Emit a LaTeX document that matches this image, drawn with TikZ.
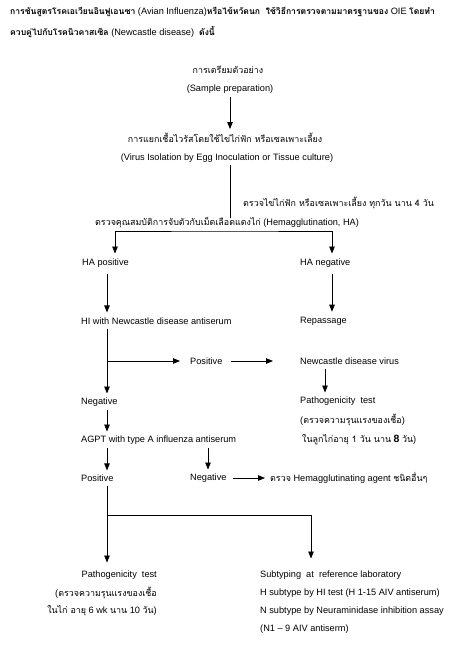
\documentclass[tikz,border=0pt]{standalone}
\usepackage{fontspec}
\setmainfont{Liberation Sans}
\newfontfamily\thaifont[Script=Thai]{Loma}
\newcommand{\tth}[1]{{\thaifont\fontsize{8.9}{11}\selectfont #1}}
\newcommand{\tthb}[1]{{\thaifont\bfseries\fontsize{8.6}{11}\selectfont #1}}
\usetikzlibrary{arrows.meta}
\begin{document}
\begin{tikzpicture}[x=1pt,y=-1pt,
  txt/.style={inner sep=0pt, anchor=west, font=\fontsize{9.2}{11}\selectfont},
  ctxt/.style={inner sep=0pt, anchor=center, font=\fontsize{9.2}{11}\selectfont},
  rtxt/.style={inner sep=0pt, anchor=east, font=\fontsize{9.2}{11}\selectfont},
  ln/.style={line width=0.8pt},
  arr/.style={ln, -{Triangle[length=7pt,width=5.5pt]}, shorten <=4pt, shorten >=4pt},
  dbl/.style={ln, {Triangle[length=7pt,width=5.5pt]}-{Triangle[length=7pt,width=5.5pt]}, shorten <=4pt, shorten >=4pt}]
\useasboundingbox (0,0) rectangle (459,645);
\fill[white] (0,0) rectangle (459,645);
% title
\node[txt] (t1) at (10,12) {\tthb{การชันสูตรโรคเอเวียนอินฟูเอนซา} (Avian Influenza)\tthb{หรือไข้หวัดนก\ \ ใช้วิธีการตรวจตามมาตรฐานของ} OIE \tthb{โดยทำ}};
\node[txt] (t2) at (10,32) {\tthb{ควบคู่ไปกับโรคนิวคาสเซิล} (Newcastle disease)\ \ \tthb{ดังนี้}};
% main column
\node[ctxt] (prepth) at (228,70) {\tth{การเตรียมตัวอย่าง}};
\node[ctxt] (prepen) at (230,89) {(Sample preparation)};
\node[ctxt] (isoth) at (225,138) {\tth{การแยกเชื้อไวรัสโดยใช้ไข่ไก่ฟัก หรือเซลเพาะเลี้ยง}};
\node[ctxt] (isoen) at (227,158) {(Virus Isolation by Egg Inoculation or Tissue culture)};
\node[txt] (check) at (243,203) {\tth{ตรวจไข่ไก่ฟัก หรือเซลเพาะเลี้ยง ทุกวัน นาน 4 วัน}};
\node[txt] (ha) at (95,223) {\tth{ตรวจคุณสมบัติการจับตัวกับเม็ดเลือดแดงไก่} (Hemagglutination, HA)};
\node[txt] (hapos) at (82,263) {HA positive};
\node[txt] (haneg) at (300,263) {HA negative};
\node[txt] (hi) at (81,321) {HI with Newcastle disease antiserum};
\node[txt] (rep) at (300,321) {Repassage};
\node[txt] (pos1) at (190,361) {Positive};
\node[txt] (ndv) at (300,361) {Newcastle disease virus};
\node[txt] (neg1) at (81,402) {Negative};
\node[txt] (path1) at (300,401) {Pathogenicity\ \ test};
\node[txt] (path1b) at (300,420) {(\tth{ตรวจความรุนแรงของเชื้อ})};
\node[txt] (path1c) at (302,440) {\tth{ในลูกไก่อายุ 1 วัน นาน} {\bfseries\fontsize{10.5}{11}\selectfont 8} \tth{วัน})};
\node[txt] (agpt) at (81,440) {AGPT with type A influenza antiserum};
\node[txt] (pos2) at (81,478) {Positive};
\node[txt] (neg2) at (190,478) {Negative};
\node[txt] (other) at (270,478) {\tth{ตรวจ} Hemagglutinating agent \tth{ชนิดอื่นๆ}};
\node[rtxt] (path2) at (157,575) {Pathogenicity\ \ test};
\node[rtxt] (path2b) at (157,593) {(\tth{ตรวจความรุนแรงของเชื้อ}};
\node[rtxt] (path2c) at (157,611) {\tth{ในไก่ อายุ} 6 wk \tth{นาน} 10 \tth{วัน})};
\node[txt] (sub) at (260,575) {Subtyping\ \ at\ \ reference laboratory};
\node[txt] (hsub) at (260,593) {H subtype by HI test (H 1-15 AIV antiserum)};
\node[txt] (nsub) at (260,611) {N subtype by Neuraminidase inhibition assay};
\node[txt] (n1) at (260,629) {(N1 -- 9 AIV antiserm)};
% routing coordinates
\coordinate (xc) at (230,0);
\coordinate (xbl) at (115,0);
\coordinate (xl) at (107,0);
\coordinate (xr) at (332,0);
\coordinate (xn) at (325,0);
\coordinate (xm) at (208,0);
\coordinate (xs) at (311,0);
\coordinate (hab) at (226,231);
\coordinate (split) at (107,515);
\coordinate (branch) at (107,361);
% connectors
\draw[arr] (prepen.south -| xc) -- (isoth.north -| xc);
\draw[ln, shorten <=3pt] (isoen.south -| xc) -- (ha.north -| xc);
\draw[dbl, shorten <=5pt, shorten >=5pt] (hapos.north -| xbl) |- (hab) -| (haneg.north -| xr);
\draw[arr, shorten <=7pt, shorten >=5pt] (hapos.south -| xl) -- (hi.north -| xl);
\draw[arr, shorten <=7pt, shorten >=5pt] (haneg.south -| xr) -- (rep.north -| xr);
\draw[arr] (hi.south -| xl) -- (neg1.north -| xl);
\draw[arr, shorten <=0pt, shorten >=10pt] (branch) -- (pos1.west);
\draw[arr, shorten <=8pt, shorten >=27pt] (pos1.east) -- (ndv.west);
\draw[arr] (ndv.south -| xn) -- (path1.north -| xn);
\draw[arr] (neg1.south -| xl) -- (agpt.north -| xl);
\draw[arr] (agpt.south -| xl) -- (pos2.north -| xl);
\draw[arr] (agpt.south -| xm) -- (neg2.north -| xm);
\draw[arr, shorten <=6pt, shorten >=5pt] (neg2.east) -- (other.west);
\draw[arr, shorten >=8pt] (pos2.south -| xl) -- (path2.north -| xl);
\draw[arr, shorten <=0pt, shorten >=12pt] (split) -| (sub.north -| xs);
\end{tikzpicture}
\end{document}
